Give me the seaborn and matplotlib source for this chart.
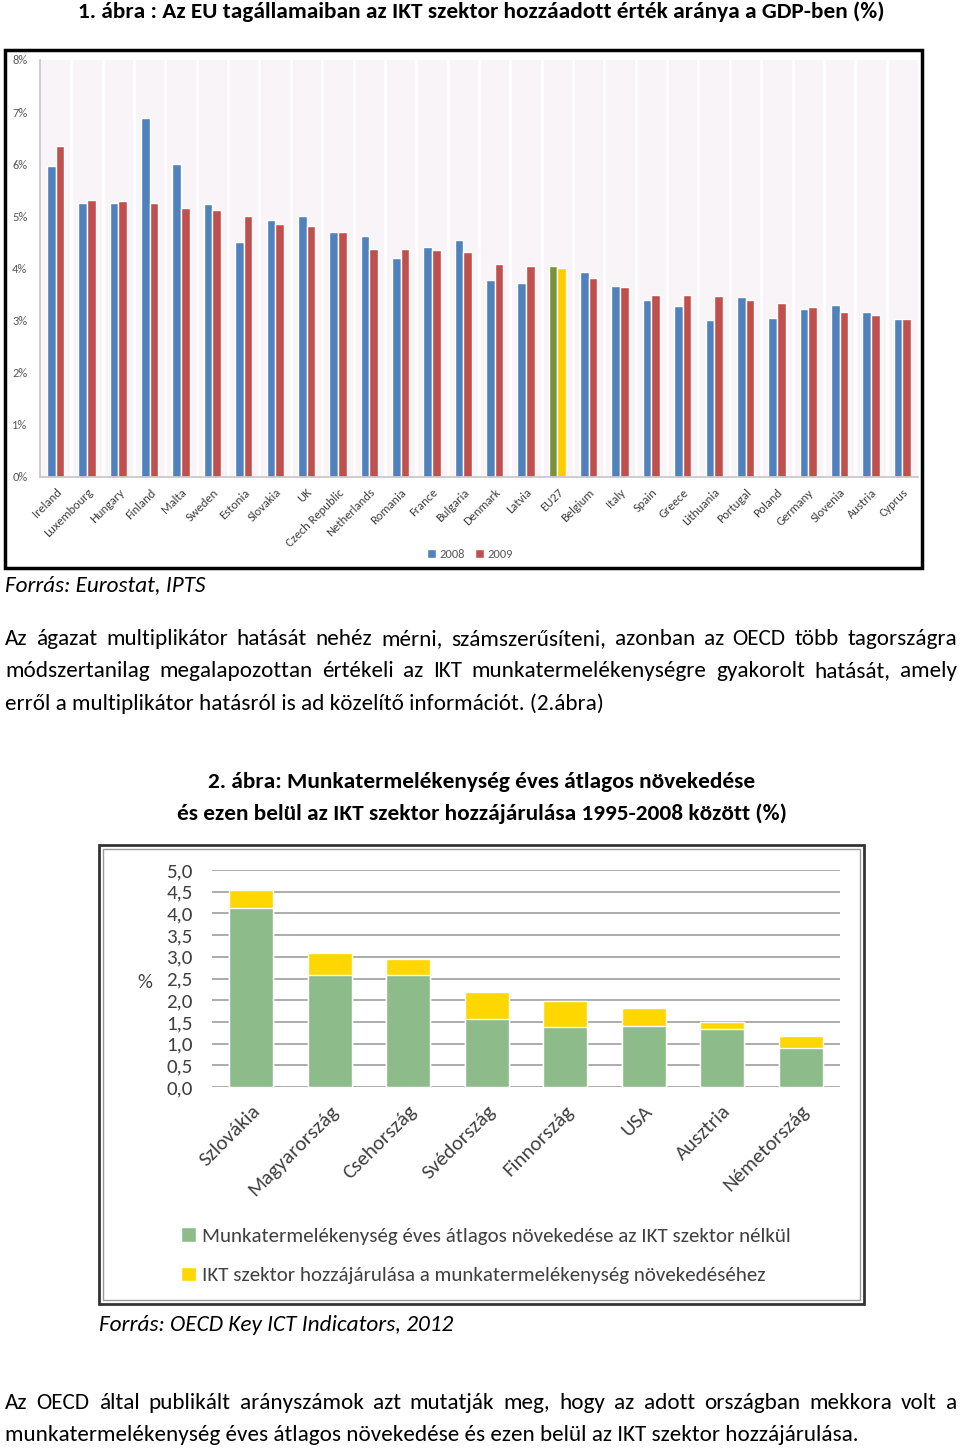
import matplotlib
matplotlib.use('Agg')
import matplotlib.pyplot as plt
from matplotlib import font_manager
from matplotlib.patches import Rectangle, Patch
import pandas as pd
import seaborn as sns

# 1. ábra: ICT value added share of GDP (%)
countries = ['Ireland', 'Luxembourg', 'Hungary', 'Finland', 'Malta', 'Sweden', 'Estonia',
             'Slovakia', 'UK', 'Czech Republic', 'Netherlands', 'Romania', 'France', 'Bulgaria',
             'Denmark', 'Latvia', 'EU27', 'Belgium', 'Italy', 'Spain', 'Greece', 'Lithuania',
             'Portugal', 'Poland', 'Germany', 'Slovenia', 'Austria', 'Cyprus']
share_2008 = [5.97, 5.26, 5.26, 6.89, 6.00, 5.24, 4.51, 4.93, 5.01, 4.70, 4.63, 4.20, 4.41, 4.55,
              3.78, 3.72, 4.05, 3.93, 3.67, 3.40, 3.28, 3.01, 3.45, 3.05, 3.22, 3.30, 3.17, 3.03]
share_2009 = [6.35, 5.32, 5.30, 5.26, 5.16, 5.12, 5.01, 4.86, 4.82, 4.70, 4.38, 4.38, 4.36, 4.32,
              4.09, 4.05, 4.01, 3.82, 3.65, 3.49, 3.49, 3.47, 3.40, 3.34, 3.26, 3.17, 3.11, 3.03]
years = ['2008', '2009']

# 2. ábra: labour productivity growth 1995-2008 (%)
countries_hu = ['Szlovákia', 'Magyarország', 'Csehország', 'Svédország', 'Finnország',
                'USA', 'Ausztria', 'Németország']
growth_without_ict = [4.12, 2.58, 2.58, 1.57, 1.38, 1.41, 1.34, 0.90]
ict_contribution = [0.42, 0.51, 0.37, 0.62, 0.60, 0.42, 0.16, 0.28]

sns.set_theme(style='white')
installed = {f.name for f in font_manager.fontManager.ttflist}
main_font = next((f for f in ['Carlito', 'Liberation Sans Narrow', 'Lato', 'Open Sans'] if f in installed),
                 'DejaVu Sans')
plt.rcParams['font.family'] = [main_font, 'DejaVu Sans']

W, H = 960, 1450
fig = plt.figure(figsize=(W / 100, H / 100), dpi=100)
renderer = fig.canvas.get_renderer()


def box(x0, y0, x1, y1):
    # pixel rect (from top-left) -> figure fraction
    return [x0 / W, 1 - y1 / H, (x1 - x0) / W, (y1 - y0) / H]


def frame(x0, y0, x1, y1, **kw):
    fig.patches.append(Rectangle((x0 / W, 1 - y1 / H), (x1 - x0) / W, (y1 - y0) / H,
                                 transform=fig.transFigure, fill=False, **kw))


def fit_size(text, width, **kw):
    # font size that makes text about `width` px wide
    t = fig.text(0, 0, text, size=10, **kw)
    w = t.get_window_extent(renderer).width
    t.remove()
    return 10 * width / w


def line_text(text, y, size, x0=5, x1=957, justify=True):
    if not justify:
        fig.text(x0 / W, 1 - y / H, text, size=size, va='center', ha='left', color='black')
        return
    words = text.split()
    items = [fig.text(0, 1 - y / H, w, size=size, va='center', ha='left', color='black') for w in words]
    widths = [t.get_window_extent(renderer).width for t in items]
    gap = (x1 - x0 - sum(widths)) / (len(words) - 1)
    x = x0
    for t, w in zip(items, widths):
        t.set_x(x / W)
        x += w + gap


# ---------- titles and body text ----------
title1 = '1. ábra : Az EU tagállamaiban az IKT szektor hozzáadott érték aránya a GDP-ben (%)'
fig.text(481 / W, 1 - 12 / H, title1, size=fit_size(title1, 800, weight='bold'),
         weight='bold', ha='center', va='center', color='black')

src1 = 'Forrás: Eurostat, IPTS'
fig.text(5 / W, 1 - 585 / H, src1, size=fit_size(src1, 200, style='italic'), style='italic',
         va='center', color='black')

last_line = 'munkatermelékenység éves átlagos növekedése és ezen belül az IKT szektor hozzájárulása.'
body = fit_size(last_line, 852)
line_text('Az ágazat multiplikátor hatását nehéz mérni, számszerűsíteni, azonban az OECD több tagországra', 639, body)
line_text('módszertanilag megalapozottan értékeli az IKT munkatermelékenységre gyakorolt hatását, amely', 671, body)
line_text('erről a multiplikátor hatásról is ad közelítő információt. (2.ábra)', 704, body, justify=False)

t2a = '2. ábra: Munkatermelékenység éves átlagos növekedése'
t2b = 'és ezen belül az IKT szektor hozzájárulása 1995-2008 között (%)'
t2size = fit_size(t2b, 606, weight='bold')
fig.text(482 / W, 1 - 782 / H, t2a, size=t2size, weight='bold', ha='center', va='center', color='black')
fig.text(482 / W, 1 - 814 / H, t2b, size=t2size, weight='bold', ha='center', va='center', color='black')

src2 = 'Forrás: OECD Key ICT Indicators, 2012'
fig.text(99 / W, 1 - 1325 / H, src2, size=fit_size(src2, 353, style='italic'), style='italic',
         va='center', color='black')
line_text('Az OECD által publikált arányszámok azt mutatják meg, hogy az adott országban mekkora volt a', 1403, body)
line_text(last_line, 1435, body, justify=False)

# ---------- chart 1 ----------
n = len(countries)
df1 = pd.DataFrame({'country': countries * 2,
                    'year': [years[0]] * n + [years[1]] * n,
                    'value': share_2008 + share_2009})
ax1 = fig.add_axes(box(40, 60, 918, 477))
sns.barplot(data=df1, x='country', y='value', hue='year', palette=['#4F81BD', '#C0504D'],
            saturation=1, width=0.55, ax=ax1)
eu = countries.index('EU27')
ax1.containers[0][eu].set_facecolor('#76933C')
ax1.containers[1][eu].set_facecolor('#FFCC00')
ax1.set_facecolor('#F8F4F7')
for i in range(n - 1):
    ax1.axvline(i + 0.5, color='white', lw=2, zorder=0)
ax1.set_ylim(0, 8)
ax1.set_yticks(range(0, 9))
ax1.set_yticklabels([f'{v}%' for v in range(0, 9)])
ax1.set_xlabel('')
ax1.set_ylabel('')
ax1.tick_params(axis='y', labelsize=9, labelcolor='#595959', length=3, color='#bfbfbf', pad=6)
ax1.tick_params(axis='x', labelsize=9, labelcolor='#404040', length=0, pad=7)
for lab in ax1.get_xticklabels():
    lab.set_rotation(45)
    lab.set_ha('right')
    lab.set_rotation_mode('anchor')
for s in ['top', 'right']:
    ax1.spines[s].set_visible(False)
for s in ['left', 'bottom']:
    ax1.spines[s].set_color('#c8c8c8')
sns.move_legend(ax1, 'center', bbox_to_anchor=(0.49, -0.185), ncol=2, frameon=False, title=None,
                fontsize=9, handlelength=0.7, handleheight=0.7, handletextpad=0.3, columnspacing=0.8)
for t in ax1.get_legend().get_texts():
    t.set_color('#595959')
frame(5, 50, 922, 568, edgecolor='black', lw=2.5)

# ---------- chart 2 ----------
green, yellow = '#8DBB8A', '#FFD700'
df2 = pd.DataFrame({'country': countries_hu,
                    'base': growth_without_ict,
                    'total': [g + c for g, c in zip(growth_without_ict, ict_contribution)]})
ax2 = fig.add_axes(box(212, 870, 840, 1087))
sns.barplot(data=df2, x='country', y='total', color=yellow, saturation=1, width=0.56, ax=ax2, zorder=3)
sns.barplot(data=df2, x='country', y='base', color=green, saturation=1, width=0.56, ax=ax2, zorder=3)
ax2.set_ylim(0, 5)
ticks = [i * 0.5 for i in range(11)]
ax2.set_yticks(ticks)
ax2.set_yticklabels([f'{v:.1f}'.replace('.', ',') for v in ticks])
ax2.yaxis.grid(True, color='#a6a6a6', lw=1.3, zorder=0)
ax2.set_axisbelow(True)
for s in ax2.spines.values():
    s.set_visible(False)
ax2.set_xlabel('')
ax2.set_ylabel('')
leg1 = 'Munkatermelékenység éves átlagos növekedése az IKT szektor nélkül'
leg2 = 'IKT szektor hozzájárulása a munkatermelékenység növekedéséhez'
c2size = fit_size(leg1, 591)
ax2.tick_params(axis='y', labelsize=c2size, labelcolor='#404040', length=0, pad=14)
ax2.tick_params(axis='x', labelsize=c2size, labelcolor='#404040', length=0, pad=11)
for lab in ax2.get_xticklabels():
    lab.set_rotation(45)
    lab.set_ha('right')
    lab.set_rotation_mode('anchor')
fig.text(145 / W, 1 - 982 / H, '%', size=c2size, color='#404040', ha='center', va='center')
fig.legend(handles=[Patch(facecolor=green, label=leg1), Patch(facecolor=yellow, label=leg2)],
           loc='upper left', bbox_to_anchor=(181 / W, 1 - 1227 / H), frameon=False, fontsize=c2size,
           labelcolor='#404040', handlelength=0.7, handleheight=0.7, handletextpad=0.3, labelspacing=1.05,
           borderaxespad=0, borderpad=0)
frame(99, 845, 864, 1304, edgecolor='#333333', lw=2)
frame(103, 849, 860, 1300, edgecolor='#9a9a9a', lw=1)

fig.savefig('out.png', dpi=100)
